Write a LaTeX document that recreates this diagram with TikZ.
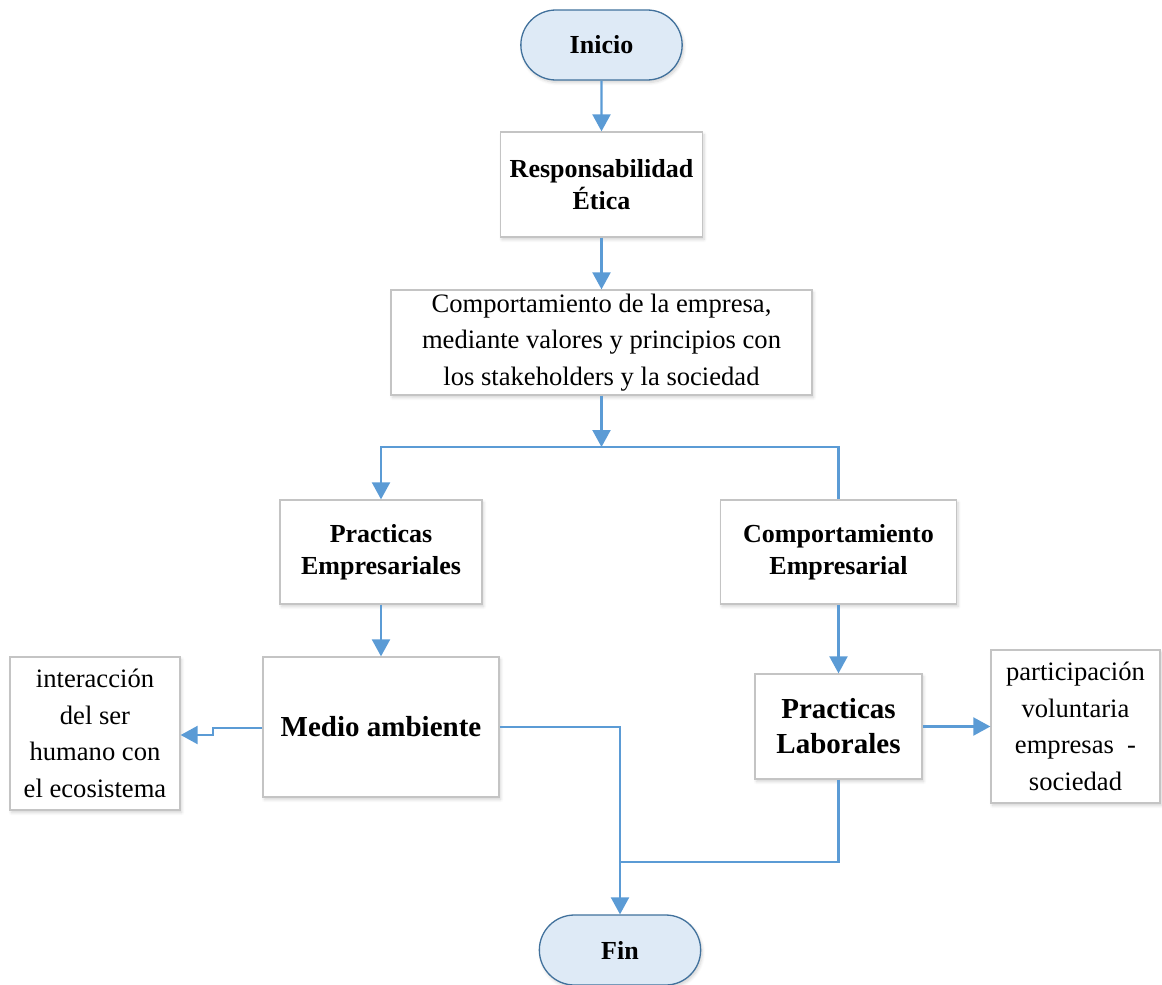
\documentclass[tikz,border=0pt]{standalone}
\usepackage{fontspec}
\setmainfont{Liberation Serif}
\usetikzlibrary{arrows.meta,shapes.misc,shadows.blur}
\definecolor{conn}{HTML}{5B9BD5}
\definecolor{termfill}{HTML}{DEEAF6}
\definecolor{termdraw}{HTML}{41719C}
\definecolor{boxdraw}{HTML}{C4C4C4}
\tikzset{
  shad/.style={blur shadow={shadow blur steps=6, shadow xshift=1.5pt, shadow yshift=-2.5pt, shadow opacity=18, shadow blur radius=3pt}},
  term/.style={rounded rectangle, draw=termdraw, line width=1.3pt, fill=termfill, shad,
    minimum width=168pt, minimum height=70pt, font=\fontsize{26}{30}\selectfont\bfseries},
  pbox/.style={rectangle, draw=boxdraw, line width=1.3pt, fill=white, shad, align=center, inner sep=2pt},
  bsmall/.style={font=\fontsize{26}{32}\selectfont\bfseries},
  bbig/.style={font=\fontsize{29}{35}\selectfont\bfseries},
  reg/.style={font=\fontsize{26.6}{36.5}\selectfont},
  conline/.style={draw=conn, line width=2.2pt},
  arr/.style={conline, -{Triangle[length=17pt,width=18pt]}}
}
\begin{document}
\begin{tikzpicture}[x=1pt,y=-1pt]
\useasboundingbox (0,0) rectangle (1162,985);
\node[term] (inicio) at (601.5,45) {Inicio};
\node[pbox,bsmall,minimum width=202pt,minimum height=105pt] (resp) at (601.5,184.5) {Responsabilidad\\Ética};
\node[pbox,reg,minimum width=421pt,minimum height=105pt] (comp) at (601.5,342.5) {Comportamiento de la empresa,\\mediante valores y principios con\\los stakeholders y la sociedad};
\node[pbox,bsmall,minimum width=202pt,minimum height=104pt] (pe) at (381,552) {Practicas\\Empresariales};
\node[pbox,bsmall,minimum width=236pt,minimum height=104pt] (ce) at (838.5,552) {Comportamiento\\Empresarial};
\node[pbox,bbig,minimum width=236pt,minimum height=140pt] (ma) at (381,727) {Medio ambiente};
\node[pbox,reg,minimum width=170pt,minimum height=153pt] (inter) at (95,733.5) {interacción\\del ser\\humano con\\el ecosistema};
\node[pbox,bbig,minimum width=167pt,minimum height=105pt] (pl) at (838.5,726.5) {Practicas\\Laborales};
\node[pbox,reg,minimum width=169pt,minimum height=153pt] (part) at (1075.5,726.5) {participación\\voluntaria\\empresas\ \ -\\sociedad};
\node[term] (fin) at (620,950) {Fin};
\coordinate (split) at (601.5,447);
\coordinate (join) at (620,862);
\draw[arr] (inicio) -- (resp);
\draw[arr] (resp) -- (comp);
\draw[arr] (comp.south) -- (split);
\draw[arr] (split) -| (pe.north);
\draw[conline] (split) -| (ce.north);
\draw[arr] (pe) -- (ma);
\draw[arr] (ce) -- (pl);
\draw[arr] (ma.west |- 0,728) -- (213,728) -- (213,735) -- (inter.east |- 0,735);
\draw[arr] (pl.east) -- (part.west);
\draw[arr] (ma.east) -| (fin.north);
\draw[conline] (pl.south) |- (join);
\end{tikzpicture}
\end{document}
